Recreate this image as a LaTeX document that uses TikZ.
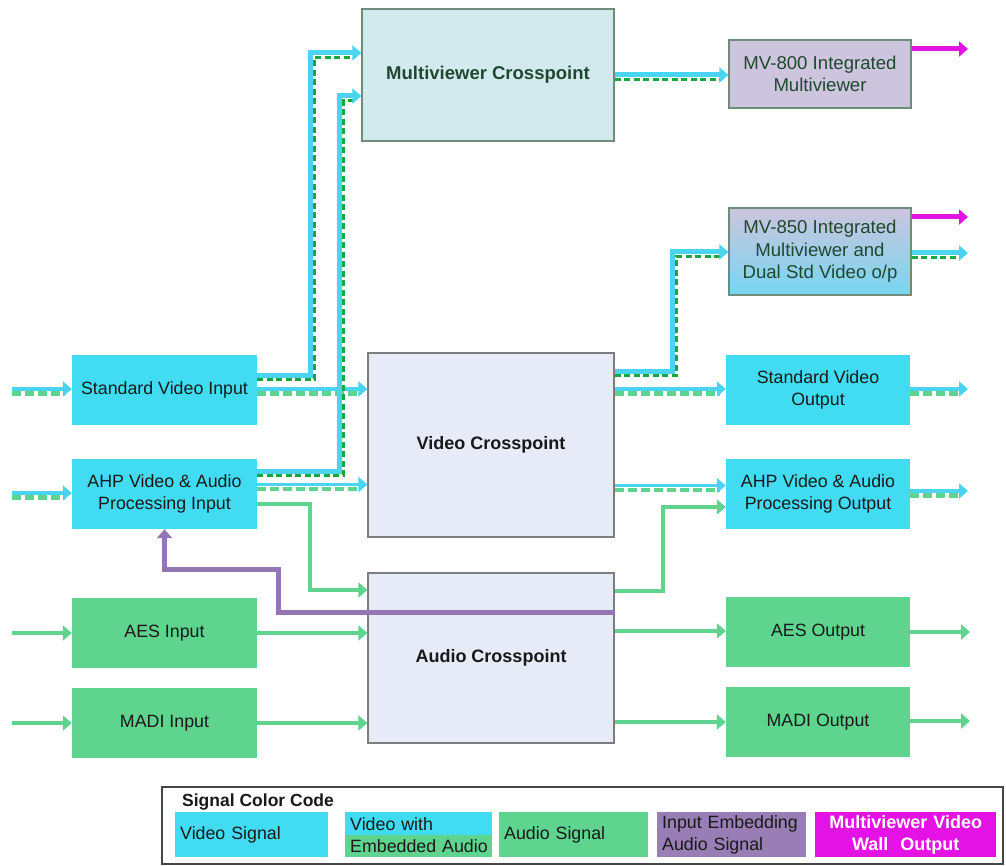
\documentclass[tikz,border=0pt]{standalone}
\usepackage{fontspec}
\setmainfont{Liberation Sans}
\usetikzlibrary{arrows.meta,calc}

\definecolor{vidcyan}{RGB}{66,220,242}
\definecolor{vidline}{RGB}{75,212,240}
\definecolor{audgreen}{RGB}{94,212,143}
\definecolor{embdark}{RGB}{22,168,62}
\definecolor{purp}{RGB}{148,118,178}
\definecolor{purpfill}{RGB}{152,126,180}
\definecolor{mag}{RGB}{228,18,228}
\definecolor{xpfill}{RGB}{230,235,247}
\definecolor{mvxfill}{RGB}{210,233,238}
\definecolor{mvfill}{RGB}{205,196,222}
\definecolor{mvblue}{RGB}{118,214,240}
\definecolor{mvborder}{RGB}{110,140,122}
\definecolor{mvtext}{RGB}{32,72,48}
\definecolor{xpborder}{RGB}{125,125,125}
\definecolor{legframe}{RGB}{70,70,70}

\begin{document}
\begin{tikzpicture}[x=1pt,y=-1pt,
  every node/.style={inner sep=0pt, align=center},
  iobox/.style={minimum width=185pt, minimum height=70pt,
    font=\fontsize{17.8}{21.5}\selectfont, text=black!90},
  vidbox/.style={iobox, fill=vidcyan},
  audbox/.style={iobox, fill=audgreen},
  xpbox/.style={draw=xpborder, line width=1.2pt, fill=xpfill, minimum width=246pt,
    font=\bfseries\fontsize{18}{22}\selectfont, text=black!90},
  mvbox/.style={draw=mvborder, line width=1.2pt, minimum width=182pt, text=mvtext,
    font=\fontsize{18.6}{22.5}\selectfont},
  tip/.style={-{Triangle[length=9pt,width=15pt]}},
  vid/.style={tip, draw=vidline, line width=3.8pt},
  vidfat/.style={tip, draw=vidline, line width=5pt},
  embdash/.style={draw=audgreen, line width=4.5pt, dash pattern=on 9pt off 4pt,
    transform canvas={yshift=-4.5pt}, shorten >=7pt},
  embdot/.style={draw=embdark, line width=3pt, dash pattern=on 6pt off 3.5pt,
    transform canvas={xshift=4.5pt,yshift=-4.5pt}, shorten <=-4.5pt, shorten >=12pt},
  aud/.style={tip, draw=audgreen, line width=4pt},
  purpline/.style={tip, draw=purp, line width=5pt},
  magline/.style={tip, draw=mag, line width=5pt},
  swatch/.style={anchor=north west, minimum height=45pt, inner xsep=5pt, inner ysep=0pt,
    align=left, font=\fontsize{17.8}{22}\selectfont, text=black!90},
]
\useasboundingbox (0,0) rectangle (1006,866);
\fill[white] (0,0) rectangle (1006,866);

% ---------- blocks ----------
\node[mvbox, fill=mvxfill, minimum width=252pt, minimum height=132pt,
  font=\bfseries\fontsize{18.5}{22}\selectfont] (mvx) at (488,75) {Multiviewer Crosspoint};
\node[mvbox, fill=mvfill, minimum height=68pt] (mv800) at (820,74) {MV-800 Integrated\\Multiviewer};
\node[mvbox, minimum height=87pt, top color=mvfill, bottom color=mvblue] (mv850) at (820,251.5)
  {MV-850 Integrated\\Multiviewer and\\Dual Std Video o/p};

\node[vidbox] (svi)  at (164.5,390) {Standard Video Input};
\node[vidbox] (ahpi) at (164.5,494) {AHP Video \& Audio\\Processing Input};
\node[audbox] (aesi) at (164.5,633) {AES Input};
\node[audbox] (madi) at (164.5,723) {MADI Input};

\node[xpbox, minimum height=184pt] (vx) at (491,445) {Video Crosspoint};
\node[xpbox, minimum height=170pt] (ax) at (491,658) {Audio Crosspoint};

\node[vidbox, minimum width=184pt] (svo)   at (818,390) {Standard Video\\Output};
\node[vidbox, minimum width=184pt] (ahpo)  at (818,494) {AHP Video \& Audio\\Processing Output};
\node[audbox, minimum width=184pt] (aeso)  at (818,632) {AES Output};
\node[audbox, minimum width=184pt] (madio) at (818,722) {MADI Output};

% ---------- free ends ----------
\coordinate (inSV)   at (12,389);
\coordinate (inAHP)  at (12,493);
\coordinate (inAES)  at (12,633);
\coordinate (inMADI) at (12,723);
\coordinate (outSV)   at (968,389);
\coordinate (outAHP)  at (968,491);
\coordinate (outAES)  at (970,632);
\coordinate (outMADI) at (970,721);
\coordinate (outMVa)  at (968,49);
\coordinate (outMVb)  at (968,217);
\coordinate (outMVc)  at (968,253);

% ---------- video with embedded audio (straight runs) ----------
\draw[embdash] (inSV) -- (svi.west |- inSV);
\draw[vid]     (inSV) -- (svi.west |- inSV);
\draw[embdash] (inAHP) -- (ahpi.west |- inAHP);
\draw[vid]     (inAHP) -- (ahpi.west |- inAHP);
\draw[embdash] (svi.east |- 0,389) -- (vx.west |- 0,389);
\draw[vid]     (svi.east |- 0,389) -- (vx.west |- 0,389);
\draw[embdash] (ahpi.east |- 0,484.5) -- (vx.west |- 0,484.5);
\draw[vid]     (ahpi.east |- 0,484.5) -- (vx.west |- 0,484.5);
\draw[embdash] (vx.east |- 0,389) -- (svo.west |- 0,389);
\draw[vid]     (vx.east |- 0,389) -- (svo.west |- 0,389);
\draw[embdash] (vx.east |- 0,485.5) -- (ahpo.west |- 0,485.5);
\draw[vid]     (vx.east |- 0,485.5) -- (ahpo.west |- 0,485.5);
\draw[embdash] (svo.east |- outSV) -- (outSV);
\draw[vid]     (svo.east |- outSV) -- (outSV);
\draw[embdash] (ahpo.east |- outAHP) -- (outAHP);
\draw[vid]     (ahpo.east |- outAHP) -- (outAHP);

% ---------- multiviewer feeds ----------
\draw[embdot] (svi.east |- 0,375) -| (310,53) -- (mvx.west |- 0,53);
\draw[vidfat] (svi.east |- 0,375) -| (310,53) -- (mvx.west |- 0,53);
\draw[embdot] (ahpi.east |- 0,471) -| (339,96) -- (mvx.west |- 0,96);
\draw[vidfat] (ahpi.east |- 0,471) -| (339,96) -- (mvx.west |- 0,96);
\draw[embdot] (vx.east |- 0,371) -| (672,252) -- (mv850.west |- 0,252);
\draw[vidfat] (vx.east |- 0,371) -| (672,252) -- (mv850.west |- 0,252);
\draw[embdot] (mvx.east |- 0,75) -- (mv800.west |- 0,75);
\draw[vidfat] (mvx.east |- 0,75) -- (mv800.west |- 0,75);
\draw[embdot] (mv850.east |- outMVc) -- (outMVc);
\draw[vidfat] (mv850.east |- outMVc) -- (outMVc);

% ---------- multiviewer wall outputs ----------
\draw[magline] (mv800.east |- outMVa) -- (outMVa);
\draw[magline] (mv850.east |- outMVb) -- (outMVb);

% ---------- audio ----------
\draw[aud] (inAES) -- (aesi.west);
\draw[aud] (inMADI) -- (madi.west);
\draw[aud] (aesi.east) -- (ax.west |- aesi.east);
\draw[aud] (madi.east) -- (ax.west |- madi.east);
\draw[aud] (ahpi.east |- 0,504) -| (310,590) -- (ax.west |- 0,590);
\draw[aud] (ax.east |- 0,591) -| (663,507) -- (ahpo.west |- 0,507);
\draw[aud] (ax.east |- 0,631) -- (aeso.west |- 0,631);
\draw[aud] (ax.east |- 0,722) -- (madio.west |- 0,722);
\draw[aud] (aeso.east |- outAES) -- (outAES);
\draw[aud] (madio.east |- outMADI) -- (outMADI);

% ---------- input embedding return ----------
\draw[purpline] (ax.east |- 0,612) -| (278,569) -| (ahpi.south);

% ---------- signal colour code ----------
\draw[legframe, line width=1.6pt] (162,787) rectangle (1003,864);
\node[anchor=west, font=\bfseries\fontsize{17.5}{20}\selectfont, text=black!90]
  (legtitle) at (182,802) {Signal Color Code};
\node[swatch, fill=vidcyan, text width=143pt] (lvid) at (175,812) {Video Signal};
\fill[vidcyan]  (345,812) rectangle (492,834.5);
\fill[audgreen] (345,834.5) rectangle (492,857);
\node[swatch, text width=150pt] (lemb) at (345,812) {Video with\\Embedded Audio};
\node[swatch, fill=audgreen, text width=139pt] (laud) at (499,812) {Audio Signal};
\node[swatch, fill=purpfill, text width=139pt] (lpur) at (657,812) {Input Embedding\\Audio Signal};
\node[swatch, fill=mag, text width=171pt, align=center, text=white,
  font=\bfseries\fontsize{18}{22}\selectfont] (lmag) at (815,812) {Multiviewer Video\\Wall~ Output};
\end{tikzpicture}
\end{document}
